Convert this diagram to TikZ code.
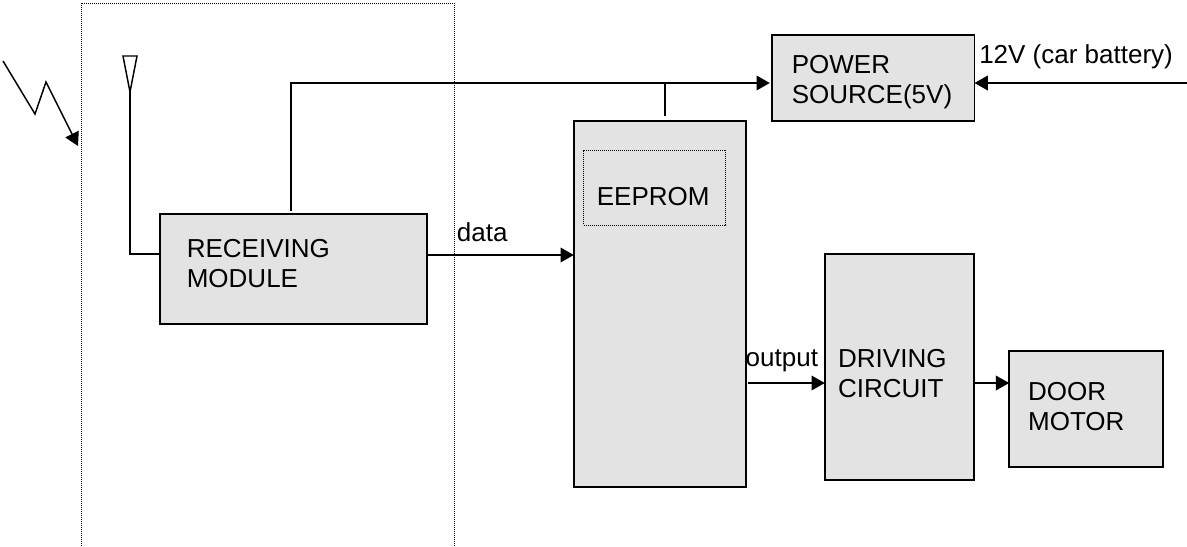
\documentclass[tikz,border=0pt]{standalone}
\usepackage{fontspec}
\setmainfont{Liberation Sans}
\usetikzlibrary{arrows.meta,calc,positioning}
\tikzset{>={Triangle[length=10pt,width=11pt]}}

\begin{document}
\begin{tikzpicture}[x=.75pt,y=-.75pt,line width=1.1pt]
	\tikzset{block/.style={draw, rectangle, fill=black!11, align=left, inner ysep=0pt, outer sep=0pt,
			font=\fontsize{19.5}{22.5}\selectfont},
		tag/.style={inner sep=0pt, font=\fontsize{19.5}{22.5}\selectfont},
		dots/.style={line width=.7pt, dash pattern=on .8pt off .7pt},
	}
	\useasboundingbox (0,0) rectangle (1187,546);
	% boxes
	\node [block, text width=160pt, inner xsep=20pt, minimum height=82.5pt] (recv) at (293.5,269) {\vspace{-16.5pt}\par RECEIVING\\MODULE};
	\node [block, right = 110.25pt of recv, yshift=-26.25pt, text width=99pt, inner xsep=15pt, minimum height=274.5pt] (mcu) {};
	\node [block, right = 59.25pt of mcu, yshift=-47.25pt, text width=92pt, inner xsep=10pt, minimum height=169.5pt] (drive) {\vspace{1pt}\par DRIVING\\CIRCUIT};
	\node [block, right = 26.25pt of drive, yshift=-31.5pt, text width=87pt, inner xsep=14.25pt, minimum height=87pt] (door) {\vspace{-12.5pt}\par DOOR\\MOTOR};
	\node [block, right = 19.5pt of mcu, yshift=169.5pt, text width=122pt, inner xsep=15pt, minimum height=64.5pt] (power) {\vspace{-2pt}\par POWER\\SOURCE(5V)};
	\node [block, dots, anchor=north west, text width=87pt, inner xsep=9.75pt, minimum height=56.25pt] (rom) at ($(mcu.north west)+(10,29)$) {\vspace{4pt}\par EEPROM};
	% labels
	\node [tag, anchor=base west, right = 3pt of power.north east, yshift=-16.5pt] (batt) {12V (car battery)};
	\node [tag, above right = 7pt and 22pt of recv.east, yshift=13pt] (data) {data};
	\node [tag, anchor=base west] (out) at (745,366) {output};
	% points on the lines
	\coordinate (pin) at ([yshift=-3.75pt]power.west);
	\coordinate (feed) at ([yshift=10.5pt]recv.east);
	\coordinate (sig) at ([yshift=-59.25pt]mcu.east);
	\coordinate (bend) at ([xshift=-1.9pt,yshift=2pt]recv.north);
	\coordinate (stub) at ([xshift=4pt,yshift=3.75pt]mcu.north);
	\coordinate (edge) at ([yshift=-3.75pt]power.east);
	\coordinate (supply) at (1187,83);
	% connectors
	\draw [->, shorten >=1.5pt] (bend) |- (pin);
	\draw (stub) -- (stub |- pin);
	\draw [->] (supply) -- (edge);
	\draw [->] (feed) -- (feed -| mcu.west);
	\draw [->] ([xshift=1.5pt]sig) -- (sig -| drive.west);
	\draw [->] (sig -| drive.east) -- (sig -| door.west);
	% antenna and signal
	\draw (130,92) -- (123,56) -- (137,56) -- cycle;
	\coordinate (ant) at (130,254);
	\draw (130,92) -- (ant) -- (ant -| recv.west);
	\draw [->] (3,61) -- (35,114) -- (46,82) -- (78,146);
	% enclosure
	\draw [dots] (81,546) -- (81,3) -- (454,3) -- (454,546);
\end{tikzpicture}
\end{document}
